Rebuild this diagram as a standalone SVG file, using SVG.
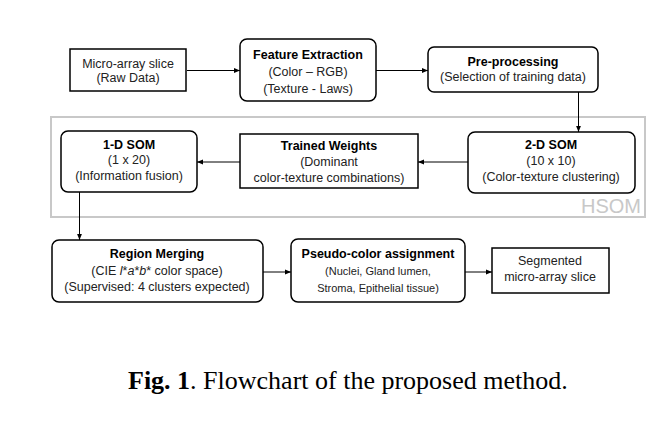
<svg xmlns="http://www.w3.org/2000/svg" width="672" height="422" viewBox="0 0 672 422">
<style>
.box{fill:#fff;stroke:#000;stroke-width:1.5}
.t{font-family:"Liberation Sans",Arial,sans-serif;font-size:12.5px;fill:#222;text-anchor:middle}
.b{font-weight:bold;fill:#000}
.s{font-size:11px}
.c{stroke:#000;stroke-width:1;fill:none;marker-end:url(#ah)}
</style>
<defs>
<marker id="ah" viewBox="0 0 10 10" refX="10" refY="5" markerWidth="9" markerHeight="6" markerUnits="userSpaceOnUse" orient="auto">
<path d="M0,1 L10,5 L0,9 z" fill="#000"/>
</marker>
</defs>
<rect width="672" height="422" fill="#fff"/>
<g id="hsom">
<rect x="51" y="117" width="594" height="100" fill="none" stroke="#c8c8c8" stroke-width="2"/>
<text x="641" y="213" font-family="Liberation Sans,Arial,sans-serif" font-size="20" fill="#c8c8c8" text-anchor="end">HSOM</text>
</g>
<g id="connectors">
<path class="c" d="M187,70.5 L240,70.5"/>
<path class="c" d="M376,70.5 L428,70.5"/>
<path class="c" d="M578.5,92 L578.5,132"/>
<path class="c" d="M468,162 L418,162"/>
<path class="c" d="M240,162 L197,162"/>
<path class="c" d="M79.5,192 L79.5,240"/>
<path class="c" d="M263,272 L291,272"/>
<path class="c" d="M465,272 L492,272"/>
</g>
<g id="raw">
<rect class="box" x="70" y="49" width="116" height="42"/>
<text class="t" x="128" y="68">Micro-array slice</text>
<text class="t" x="128" y="82">(Raw Data)</text>
</g>
<g id="feature">
<rect class="box" x="240" y="39" width="136" height="62" rx="7"/>
<text class="t b" x="308" y="59">Feature Extraction</text>
<text class="t" x="308" y="76">(Color – RGB)</text>
<text class="t" x="308" y="93">(Texture - Laws)</text>
</g>
<g id="prep">
<rect class="box" x="428" y="47" width="170" height="45" rx="6"/>
<text class="t b" x="513" y="66">Pre-processing</text>
<text class="t" x="513" y="81">(Selection of training data)</text>
</g>
<g id="som2">
<rect class="box" x="468" y="132" width="167" height="61" rx="7"/>
<text class="t b" x="551" y="149">2-D SOM</text>
<text class="t" x="551" y="165">(10 x 10)</text>
<text class="t" x="551" y="181">(Color-texture clustering)</text>
</g>
<g id="weights">
<rect class="box" x="240" y="134" width="178" height="54"/>
<text class="t b" x="329" y="150">Trained Weights</text>
<text class="t" x="329" y="166">(Dominant</text>
<text class="t" x="329" y="182">color-texture combinations)</text>
</g>
<g id="som1">
<rect class="box" x="61" y="131" width="136" height="61" rx="7"/>
<text class="t b" x="129" y="149">1-D SOM</text>
<text class="t" x="129" y="164">(1 x 20)</text>
<text class="t" x="129" y="180">(Information fusion)</text>
</g>
<g id="merge">
<rect class="box" x="52" y="240" width="211" height="62" rx="7"/>
<text class="t b" x="157" y="258">Region Merging</text>
<text class="t" x="157" y="275">(CIE <tspan font-style="italic">l</tspan>*<tspan font-style="italic">a</tspan>*<tspan font-style="italic">b</tspan>* color space)</text>
<text class="t" x="157" y="291">(Supervised: 4 clusters expected)</text>
</g>
<g id="pseudo">
<rect class="box" x="291" y="239" width="174" height="63" rx="7"/>
<text class="t b" x="378" y="258">Pseudo-color assignment</text>
<text class="t s" x="378" y="275">(Nuclei, Gland lumen,</text>
<text class="t s" x="378" y="292">Stroma, Epithelial tissue)</text>
</g>
<g id="segmented">
<rect class="box" x="492" y="248" width="117" height="45"/>
<text class="t" x="550" y="265">Segmented</text>
<text class="t" x="550" y="281">micro-array slice</text>
</g>
<g id="caption">
<text x="128" y="389" font-family="Liberation Serif,Times New Roman,serif" font-size="26" fill="#000"><tspan font-weight="bold">Fig. 1</tspan>. Flowchart of the proposed method.</text>
</g>
</svg>
